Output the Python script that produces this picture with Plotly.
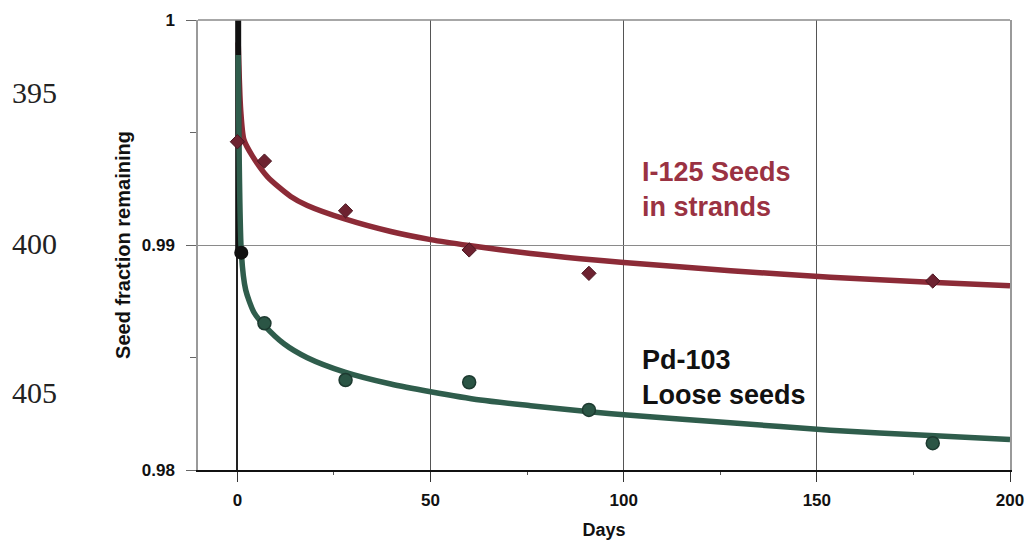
import plotly.graph_objects as go

# ---- measured seed retention (fraction of seeds still in place) ----
i125_days = [0, 7, 28, 60, 91, 180]
i125_frac = [0.99459, 0.99373, 0.99152, 0.98978, 0.98874, 0.98840]

pd103_first_day = [1]
pd103_first_frac = [0.98966]
pd103_days = [7, 28, 60, 91, 180]
pd103_frac = [0.98652, 0.98400, 0.98390, 0.98267, 0.98119]

# ---- fitted retention curves ----
i125_fit_days = [0.2, 0.85, 1.7, 3.9, 7.8, 13.8, 18.1, 27.8, 39.7, 50, 59.9,
                 75.9, 88.8, 100, 127.7, 153.5, 179.3, 200]
i125_fit_frac = [0.99900, 0.99600, 0.99467, 0.99395, 0.99303, 0.99216, 0.99176,
                 0.99116, 0.99060, 0.99024, 0.98998, 0.98962, 0.98939, 0.98922,
                 0.98886, 0.98857, 0.98835, 0.98819]

pd103_fit_days = [0.2, 1.03, 2.15, 4.3, 6.9, 12.05, 18.1, 27.8, 39.7, 50, 62.9,
                  75.9, 91.2, 101.7, 127.6, 153.5, 179.3, 200]
pd103_fit_frac = [0.99844, 0.98963, 0.98800, 0.98700, 0.98644, 0.98561, 0.98499,
                  0.98435, 0.98382, 0.98348, 0.98311, 0.98286, 0.98259, 0.98243,
                  0.98210, 0.98177, 0.98153, 0.98136]

# vertical drop at implant time
drop_days = [0.2, 0.2]
drop_frac = [1.0, 0.98966]

y_tick_vals = [0.98, 0.99, 1.0]
y_tick_text = ["0.98", "0.99", "1"]
x_tick_vals = [0, 50, 100, 150, 200]

line_numbers = ["395", "400", "405"]
line_number_pos = [0.84, 0.5044, 0.1733]

RED = "#8c2b37"
RED_MARK = "#6d2230"
GREEN = "#2f5d4c"
GREEN_MARK = "#2b5545"
FONT = "Liberation Sans, Arial, sans-serif"

fig = go.Figure()

fig.add_trace(go.Scatter(x=i125_fit_days, y=i125_fit_frac, mode="lines",
                         line=dict(color=RED, width=5.5, shape="spline", smoothing=0.7),
                         showlegend=False))
fig.add_trace(go.Scatter(x=drop_days, y=drop_frac, mode="lines",
                         line=dict(color="#111111", width=6), showlegend=False))
fig.add_trace(go.Scatter(x=pd103_fit_days, y=pd103_fit_frac, mode="lines",
                         line=dict(color=GREEN, width=5.5, shape="spline", smoothing=0.7),
                         showlegend=False))
fig.add_trace(go.Scatter(x=i125_days, y=i125_frac, mode="markers",
                         marker=dict(symbol="diamond", size=11, color=RED_MARK,
                                     line=dict(color="#4a1520", width=1)),
                         showlegend=False))
fig.add_trace(go.Scatter(x=pd103_days, y=pd103_frac, mode="markers",
                         marker=dict(symbol="circle", size=13, color=GREEN_MARK,
                                     line=dict(color="#1d3a30", width=1.5)),
                         showlegend=False))
fig.add_trace(go.Scatter(x=pd103_first_day, y=pd103_first_frac, mode="markers",
                         marker=dict(symbol="circle", size=14, color="#111111"),
                         showlegend=False))

annotations = [
    dict(x=104.3, y=0.99247, xref="x", yref="y", xanchor="left", yanchor="middle",
         text="I-125 Seeds<br>in strands", showarrow=False, align="left",
         font=dict(family=FONT, size=27, color="#9a3242", weight="bold")),
    dict(x=104.3, y=0.98413, xref="x", yref="y", xanchor="left", yanchor="middle",
         text="Pd-103<br>Loose seeds", showarrow=False, align="left",
         font=dict(family=FONT, size=27, color="#111111", weight="bold")),
]
for label, ypos in zip(line_numbers, line_number_pos):
    annotations.append(dict(x=-0.2315, y=ypos, xref="paper", yref="paper",
                            xanchor="left", yanchor="middle", text=label,
                            showarrow=False,
                            font=dict(family="Liberation Serif, Times New Roman, serif",
                                      size=30, color="#222222")))

fig.update_layout(
    width=1026, height=543,
    margin=dict(l=198, r=16, t=20, b=73, autoexpand=False),
    paper_bgcolor="white", plot_bgcolor="white",
    annotations=annotations,
    shapes=[dict(type="line", xref="paper", yref="paper", x0=0, x1=1, y0=1, y1=1,
                 line=dict(color="#8a8a8a", width=1.5))],
)

fig.update_xaxes(
    range=[-10.2, 200], tickvals=x_tick_vals,
    showgrid=True, gridcolor="#555555", gridwidth=1,
    zeroline=True, zerolinecolor="#222222", zerolinewidth=1.5,
    showline=True, linecolor="#111111", linewidth=2,
    ticks="outside", ticklen=10, tickcolor="#333333", tickwidth=1,
    minor=dict(tickvals=[25, 75, 125, 175], ticks="outside", ticklen=3,
               tickcolor="#555555", showgrid=False),
    tickfont=dict(family=FONT, size=17, color="#111111", weight="bold"),
    ticklabelstandoff=4,
    title=dict(text="Days", standoff=14,
               font=dict(family=FONT, size=18, color="#111111", weight="bold")),
)
fig.update_yaxes(
    range=[0.98, 1.0], tickvals=y_tick_vals, ticktext=y_tick_text,
    showgrid=True, gridcolor="#8a8a8a", gridwidth=1,
    zeroline=False,
    showline=True, linecolor="#9a9a9a", linewidth=1.5, mirror=True,
    ticks="outside", ticklen=10, tickcolor="#666666", tickwidth=1,
    minor=dict(tickvals=[0.985, 0.995], ticks="outside", ticklen=6,
               tickcolor="#666666", showgrid=False),
    tickfont=dict(family=FONT, size=17, color="#111111", weight="bold"),
    ticklabelstandoff=8,
    title=dict(text="Seed fraction remaining", standoff=6,
               font=dict(family=FONT, size=20, color="#111111", weight="bold")),
)

fig.write_html("out.html")
